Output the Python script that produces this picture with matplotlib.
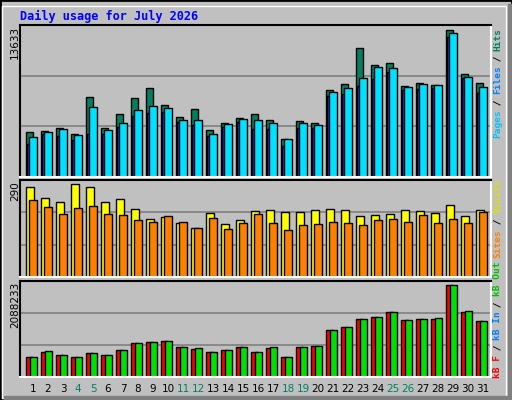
import matplotlib

matplotlib.use("Agg")
import matplotlib.pyplot as plt
from matplotlib.patches import Rectangle

days = list(range(1, 32))
weekend = [4, 5, 11, 12, 18, 19, 25, 26]

hits = [4194, 4287, 4503, 4009, 7433, 4564, 5860, 7340, 8265, 6692, 5582, 6322, 4379, 5027, 5490, 5860,
        5305, 3547, 5212, 5027, 8080, 8636, 11966, 10393, 10517, 8450, 8728, 8543, 13633, 9561, 8728]
files = [3732, 4194, 4472, 3917, 6507, 4379, 5027, 6230, 6600, 6415, 5305, 5305, 4009, 4934, 5397, 5305,
         5027, 3547, 5027, 4842, 7895, 8265, 9190, 10208, 10116, 8358, 8635, 8543, 13354, 9283, 8358]
pages = [3084, 4009, 3824, 3454, 4009, 4009, 4657, 5675, 5952, 6045, 5119, 4842, 3824, 4657, 5119, 4472,
         4472, 2899, 4564, 4564, 7525, 7710, 8450, 9098, 9745, 8080, 8173, 8265, 12984, 9190, 7803]
visits = [281, 246, 233, 290, 281, 233, 243, 211, 180, 186, 170, 154, 199, 164, 177, 205,
          208, 202, 202, 208, 211, 208, 189, 192, 195, 208, 205, 199, 224, 189, 208]
sites = [240, 217, 195, 214, 221, 195, 192, 177, 173, 189, 173, 154, 183, 151, 167, 195,
         170, 148, 161, 164, 173, 167, 161, 177, 180, 173, 192, 170, 180, 170, 202]
kb_out = [457, 579, 488, 457, 533, 488, 602, 762, 785, 808, 671, 648, 556, 602, 671, 556,
          671, 442, 671, 694, 1059, 1128, 1311, 1357, 1471, 1288, 1311, 1334, 2088, 1494, 1265]
kb_f = [457, 556, 488, 457, 533, 488, 602, 762, 785, 808, 671, 625, 556, 602, 671, 556,
        648, 442, 671, 694, 1059, 1128, 1311, 1357, 1471, 1288, 1311, 1311, 2088, 1471, 1265]

W, H = 512, 400
BG = "#c0c0c0"
fig = plt.figure(figsize=(W / 100, H / 100), dpi=100, facecolor=BG)

# outer 3D frame
fig.patches.append(Rectangle((0, 0), 1, 1, transform=fig.transFigure, fill=False, ec="black", lw=2))
fig.patches.append(Rectangle((2 / W, 2 / H), 1 - 8 / W, 1 - 8 / H, transform=fig.transFigure,
                             fill=False, ec="white", lw=1))
fig.patches.append(Rectangle((4 / W, 0), 1 - 4 / W, 4 / H, transform=fig.transFigure, color="#808080"))
fig.patches.append(Rectangle((1 - 4 / W, 0), 4 / W, 1 - 4 / H, transform=fig.transFigure, color="#808080"))


def panel(top, bottom, ymax):
    ax = fig.add_axes([20 / W, 1 - bottom / H, 471 / W, (bottom - top) / H])
    ax.set_facecolor(BG)
    ax.set_xlim(0.133, 31.533)
    ax.set_ylim(0, ymax)
    for y in (ymax / 3, 2 * ymax / 3):
        ax.axhline(y, color="#808080", lw=1.2, zorder=0)
    ax.set_xticks([])
    ax.set_yticks([])
    ax.spines["top"].set_color("black")
    ax.spines["left"].set_color("black")
    ax.spines["bottom"].set_color("white")
    ax.spines["right"].set_color("white")
    for s in ax.spines.values():
        s.set_linewidth(1.5)
    return ax


kw = dict(align="edge", edgecolor="black", linewidth=1)

ax1 = panel(25, 177, 14068)
ax1.bar([d - 0.487 for d in days], hits, 0.47, color="#008060", **kw)
ax1.bar([d - 0.42 for d in days], pages, 0.45, color="#0040ff", **kw)
ax1.bar([d - 0.25 for d in days], files, 0.49, color="#00e0ff", **kw)

ax2 = panel(180, 277, 302.6)
ax2.bar([d - 0.487 for d in days], visits, 0.53, color="#ffff00", **kw)
ax2.bar([d - 0.25 for d in days], sites, 0.49, color="#ff8000", **kw)

ax3 = panel(281, 377, 2172.8)
ax3.bar([d - 0.5 for d in days], kb_f, 0.5, color="#ff0000", **kw)
ax3.bar([d - 0.22 for d in days], kb_out, 0.47, color="#00e000", **kw)

mono = "DejaVu Sans Mono"
fig.text(20 / W, 1 - 16 / H, "Daily usage for July 2026", color="#0000ff", family=mono,
         weight="bold", fontsize=8.6, va="center", ha="left")

for label, ytop in (("13633", 26), ("290", 181), ("2088233", 282)):
    fig.text(15 / W, 1 - ytop / H, label, rotation=90, va="top", ha="center",
             fontsize=7.5, color="black")


def side_label(parts, ybottom, step):
    pos = 0
    for text, color in parts:
        fig.text(498 / W, 1 - (ybottom - pos * step) / H, text, rotation=90, va="bottom",
                 ha="center", family=mono, fontsize=6.8, weight="bold", color=color)
        pos += len(text)


side_label([("Pages", "#00c0ff"), (" / ", "black"), ("Files", "#0080ff"), (" / ", "black"),
            ("Hits", "#008060")], 138, 5.45)
side_label([("Sites", "#ff8000"), (" / ", "black"), ("Visits", "#e0e000")], 258, 5.6)
side_label([("kB F", "#ff0000"), (" / ", "black"), ("kB In", "#0080ff"), (" / ", "black"),
            ("kB Out", "#00c000")], 378, 5.45)

for d in days:
    x = 20 + (d - 0.133) * 15
    fig.text(x / W, 1 - 389 / H, str(d), ha="center", va="center", fontsize=7.5,
             color="#008060" if d in weekend else "black")

fig.savefig("out.png", dpi=100, facecolor=BG)
